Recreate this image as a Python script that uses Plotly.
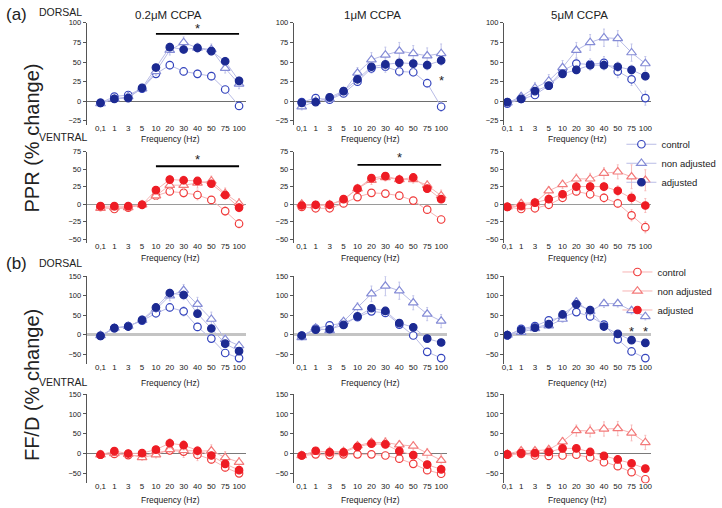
import plotly.graph_objects as go

W, H = 722, 508

freq_labels = ["0,1", "1", "3", "5", "10", "20", "30", "40", "50", "75", "100"]
concentrations = ["0.2μM CCPA", "1μM CCPA", "5μM CCPA"]
series_names = ["control", "non adjusted", "adjusted"]

# ---- PPR, DORSAL ----
ppr_dor_02_control = [-2, 6, 8, 16, 35, 46, 38, 35, 32, 15, -6]
ppr_dor_02_nonadj = [-3, 3, 6, 16, 38, 65, 75, 68, 66, 42, 22]
ppr_dor_02_adj = [-2, 3, 4, 17, 43, 69, 66, 68, 64, 51, 26]
ppr_dor_02_control_err = [3, 3, 3, 3, 4, 5, 5, 5, 5, 4, 3]
ppr_dor_02_nonadj_err = [3, 3, 3, 3, 5, 6, 7, 6, 7, 6, 6]
ppr_dor_02_adj_err = [3, 3, 3, 3, 4, 5, 5, 5, 5, 5, 5]

ppr_dor_1_control = [-1, 4, 2, 10, 25, 42, 44, 38, 37, 23, -7]
ppr_dor_1_nonadj = [-7, 0, 3, 12, 36, 53, 59, 64, 61, 58, 61]
ppr_dor_1_adj = [-2, -1, 5, 13, 28, 44, 47, 49, 48, 46, 52]
ppr_dor_1_control_err = [4, 4, 4, 4, 5, 6, 7, 6, 5, 5, 6]
ppr_dor_1_nonadj_err = [4, 4, 4, 4, 7, 9, 10, 11, 10, 10, 12]
ppr_dor_1_adj_err = [3, 3, 3, 3, 5, 6, 7, 7, 6, 6, 6]

ppr_dor_5_control = [-3, 3, 8, 20, 39, 48, 47, 49, 38, 28, 4]
ppr_dor_5_nonadj = [-2, 6, 17, 26, 43, 65, 75, 81, 80, 62, 48]
ppr_dor_5_adj = [-1, 3, 13, 20, 35, 40, 46, 46, 44, 40, 32]
ppr_dor_5_control_err = [4, 4, 4, 4, 5, 7, 7, 8, 8, 8, 9]
ppr_dor_5_nonadj_err = [4, 5, 7, 8, 9, 10, 10, 11, 10, 11, 9]
ppr_dor_5_adj_err = [3, 3, 3, 3, 4, 5, 6, 6, 6, 6, 5]

# ---- PPR, VENTRAL ----
ppr_ven_02_control = [-4, -7, -5, -1, 12, 18, 16, 13, 6, -10, -28]
ppr_ven_02_nonadj = [-6, -5, -5, -1, 12, 27, 27, 30, 33, 15, 1]
ppr_ven_02_adj = [-3, -3, -3, -1, 20, 35, 34, 33, 29, 13, -5]
ppr_ven_02_control_err = [4, 4, 4, 3, 5, 5, 6, 7, 5, 6, 6]
ppr_ven_02_nonadj_err = [4, 4, 4, 3, 5, 6, 7, 7, 7, 8, 7]
ppr_ven_02_adj_err = [3, 3, 3, 3, 5, 6, 6, 5, 5, 5, 6]

ppr_ven_1_control = [-4, -6, -6, 1, 10, 16, 15, 12, 5, -8, -22]
ppr_ven_1_nonadj = [0, -2, -1, 6, 22, 34, 38, 35, 35, 27, 12]
ppr_ven_1_adj = [-2, -1, -1, 7, 22, 37, 40, 35, 38, 22, 7]
ppr_ven_1_control_err = [4, 4, 4, 3, 4, 4, 5, 5, 5, 5, 5]
ppr_ven_1_nonadj_err = [4, 4, 4, 4, 5, 6, 5, 5, 5, 6, 8]
ppr_ven_1_adj_err = [3, 3, 3, 3, 4, 4, 4, 4, 4, 5, 5]

ppr_ven_5_control = [-4, -7, -6, -1, 9, 18, 14, 9, 1, -16, -33]
ppr_ven_5_nonadj = [-4, 1, 2, 19, 28, 36, 36, 44, 46, 39, 34]
ppr_ven_5_adj = [-4, -3, 2, 7, 14, 25, 25, 25, 19, 9, -2]
ppr_ven_5_control_err = [4, 4, 4, 4, 5, 5, 6, 6, 6, 8, 8]
ppr_ven_5_nonadj_err = [4, 5, 5, 6, 6, 7, 8, 8, 10, 17, 15]
ppr_ven_5_adj_err = [3, 3, 3, 4, 5, 6, 6, 6, 7, 8, 10]

# ---- FF/D, DORSAL ----
ffd_dor_02_control = [-3, 17, 22, 36, 55, 70, 60, 20, -10, -47, -60]
ffd_dor_02_nonadj = [-2, 17, 22, 37, 65, 100, 114, 78, 40, -12, -28]
ffd_dor_02_adj = [-3, 17, 21, 38, 70, 107, 102, 54, 16, -23, -42]
ffd_dor_02_control_err = [5, 5, 5, 5, 6, 10, 12, 10, 8, 8, 6]
ffd_dor_02_nonadj_err = [5, 5, 5, 5, 8, 13, 15, 18, 18, 12, 10]
ffd_dor_02_adj_err = [4, 4, 4, 4, 6, 10, 12, 10, 8, 8, 6]

ffd_dor_1_control = [-3, 16, 24, 30, 45, 60, 56, 26, -2, -44, -60]
ffd_dor_1_nonadj = [-7, 17, 11, 34, 70, 105, 125, 113, 82, 53, 35]
ffd_dor_1_adj = [-2, 13, 14, 25, 47, 68, 61, 30, 19, -10, -20]
ffd_dor_1_control_err = [5, 5, 5, 5, 6, 8, 9, 8, 6, 5, 5]
ffd_dor_1_nonadj_err = [5, 5, 5, 6, 12, 20, 25, 22, 18, 17, 17]
ffd_dor_1_adj_err = [4, 4, 4, 4, 6, 8, 10, 8, 6, 6, 6]

ffd_dor_5_control = [-2, 15, 22, 37, 45, 58, 47, 26, -12, -43, -60]
ffd_dor_5_nonadj = [-1, 6, 16, 23, 40, 84, 60, 80, 80, 62, 47]
ffd_dor_5_adj = [-1, 12, 18, 27, 52, 78, 63, 21, 2, -14, -21]
ffd_dor_5_control_err = [5, 5, 5, 5, 6, 8, 9, 8, 6, 5, 5]
ffd_dor_5_nonadj_err = [5, 5, 6, 6, 8, 10, 10, 10, 9, 9, 9]
ffd_dor_5_adj_err = [4, 4, 4, 4, 6, 8, 10, 8, 6, 6, 6]

# ---- FF/D, VENTRAL ----
ffd_ven_02_control = [-3, -1, -4, -6, 2, 8, 5, -3, -15, -35, -50]
ffd_ven_02_nonadj = [-3, 0, -2, -10, -3, 10, 8, 6, 7, -10, -22]
ffd_ven_02_adj = [-3, 6, 0, 1, 10, 26, 21, 7, -5, -26, -42]
ffd_ven_02_control_err = [5, 5, 5, 5, 6, 10, 15, 15, 10, 10, 6]
ffd_ven_02_nonadj_err = [5, 5, 5, 6, 8, 10, 10, 12, 15, 15, 12]
ffd_ven_02_adj_err = [4, 4, 4, 4, 6, 12, 12, 10, 8, 8, 6]

ffd_ven_1_control = [-5, -2, -4, -2, -2, -2, -5, -13, -26, -42, -51]
ffd_ven_1_nonadj = [-5, 4, 5, 5, 20, 28, 28, 22, 19, 1, -17]
ffd_ven_1_adj = [-5, 7, 3, 3, 17, 25, 23, 6, -4, -28, -40]
ffd_ven_1_control_err = [4, 4, 4, 4, 5, 6, 6, 6, 6, 6, 6]
ffd_ven_1_nonadj_err = [4, 5, 5, 5, 8, 10, 12, 10, 10, 12, 15]
ffd_ven_1_adj_err = [3, 4, 4, 4, 5, 6, 6, 8, 6, 8, 8]

ffd_ven_5_control = [-3, -1, -5, -6, -5, -3, -10, -22, -32, -47, -65]
ffd_ven_5_nonadj = [-1, 7, 7, 10, 30, 58, 57, 62, 63, 52, 28]
ffd_ven_5_adj = [-2, 1, 1, 4, 13, 13, 4, -6, -15, -25, -38]
ffd_ven_5_control_err = [4, 4, 5, 5, 5, 6, 8, 8, 8, 8, 6]
ffd_ven_5_nonadj_err = [4, 6, 6, 8, 10, 14, 15, 18, 18, 20, 18]
ffd_ven_5_adj_err = [3, 4, 4, 4, 6, 8, 8, 8, 8, 8, 6]

# significance bars: (row, col, first index, last index, level); stars: (row, col, index, level)
sig_bars = [(0, 0, 4, 10, 86), (1, 0, 4, 10, 54), (1, 1, 4, 10, 56)]
sig_stars = [(0, 0, 7, 93), (1, 0, 7, 64), (1, 1, 7, 66), (0, 1, 10, 26), (2, 2, 9, 8), (2, 2, 10, 8)]

# ---------------------------------------------------------------------------
panels = [
    [(ppr_dor_02_control, ppr_dor_02_control_err, ppr_dor_02_nonadj, ppr_dor_02_nonadj_err, ppr_dor_02_adj, ppr_dor_02_adj_err),
     (ppr_dor_1_control, ppr_dor_1_control_err, ppr_dor_1_nonadj, ppr_dor_1_nonadj_err, ppr_dor_1_adj, ppr_dor_1_adj_err),
     (ppr_dor_5_control, ppr_dor_5_control_err, ppr_dor_5_nonadj, ppr_dor_5_nonadj_err, ppr_dor_5_adj, ppr_dor_5_adj_err)],
    [(ppr_ven_02_control, ppr_ven_02_control_err, ppr_ven_02_nonadj, ppr_ven_02_nonadj_err, ppr_ven_02_adj, ppr_ven_02_adj_err),
     (ppr_ven_1_control, ppr_ven_1_control_err, ppr_ven_1_nonadj, ppr_ven_1_nonadj_err, ppr_ven_1_adj, ppr_ven_1_adj_err),
     (ppr_ven_5_control, ppr_ven_5_control_err, ppr_ven_5_nonadj, ppr_ven_5_nonadj_err, ppr_ven_5_adj, ppr_ven_5_adj_err)],
    [(ffd_dor_02_control, ffd_dor_02_control_err, ffd_dor_02_nonadj, ffd_dor_02_nonadj_err, ffd_dor_02_adj, ffd_dor_02_adj_err),
     (ffd_dor_1_control, ffd_dor_1_control_err, ffd_dor_1_nonadj, ffd_dor_1_nonadj_err, ffd_dor_1_adj, ffd_dor_1_adj_err),
     (ffd_dor_5_control, ffd_dor_5_control_err, ffd_dor_5_nonadj, ffd_dor_5_nonadj_err, ffd_dor_5_adj, ffd_dor_5_adj_err)],
    [(ffd_ven_02_control, ffd_ven_02_control_err, ffd_ven_02_nonadj, ffd_ven_02_nonadj_err, ffd_ven_02_adj, ffd_ven_02_adj_err),
     (ffd_ven_1_control, ffd_ven_1_control_err, ffd_ven_1_nonadj, ffd_ven_1_nonadj_err, ffd_ven_1_adj, ffd_ven_1_adj_err),
     (ffd_ven_5_control, ffd_ven_5_control_err, ffd_ven_5_nonadj, ffd_ven_5_nonadj_err, ffd_ven_5_adj, ffd_ven_5_adj_err)],
]

BLUE = dict(line="#b9bce6", err="#c2c5ea", ctrl="#3444bd", nonadj="#858cd6", adj="#1c2a92")
RED = dict(line="#f7b3b3", err="#f7bcbc", ctrl="#f03c3c", nonadj="#f37a7a", adj="#ee1c24")
row_colors = [BLUE, RED, BLUE, RED]

FONT = "Liberation Sans, Arial, sans-serif"


def px(x):
    return x / W


def py(y):
    return 1 - y / H


col_px = [(85, 245), (293, 447), (504, 652)]
col_range = [[-1.0, 10.5], [-0.57, 10.43], [-0.25, 10.43]]
row_px = [(19, 122), (149, 241), (275, 363.5), (394, 484)]
row_range = [[-30, 100], [-55, 75], [-75, 150], [-75, 150]]
row_ticks = [[-25, 0, 25, 50, 75, 100], [-50, -25, 0, 25, 50, 75],
             [-50, 0, 50, 100, 150], [-50, 0, 50, 100, 150]]
zl_style = [("#6e6e6e", 1), ("#9a9a9a", 1.2), ("#c4c4c4", 2.5), ("#7a7a7a", 1)]
freq_title_y = [136, 257, 383, 501]

xs = list(range(len(freq_labels)))

fig = go.Figure()
layout = dict(
    width=W, height=H, autosize=False,
    margin=dict(l=0, r=0, t=0, b=0),
    paper_bgcolor="white", plot_bgcolor="white",
    font=dict(family=FONT, color="#222"),
    showlegend=True,
)

shapes = []
annotations = []

for r in range(4):
    for c in range(3):
        k = r * 3 + c + 1
        xa = "x" if k == 1 else f"x{k}"
        ya = "y" if k == 1 else f"y{k}"
        col = row_colors[r]
        ctrl, ctrl_e, nadj, nadj_e, adj, adj_e = panels[r][c]
        legend_id = None
        if r == 0 and c == 0:
            legend_id = "legend"
        elif r == 1 and c == 0:
            legend_id = "legend2"
        specs = [
            (series_names[0], ctrl, ctrl_e, "circle", "white", col["ctrl"], 7.5),
            (series_names[1], nadj, nadj_e, "triangle-up", "white", col["nonadj"], 8.5),
            (series_names[2], adj, adj_e, "circle", col["adj"], col["adj"], 7.5),
        ]
        for name, vals, errs, sym, fill, edge, size in specs:
            fig.add_trace(go.Scatter(
                x=xs, y=vals, name=name, mode="lines+markers",
                xaxis=xa, yaxis=ya,
                line=dict(color=col["line"], width=1),
                marker=dict(symbol=sym, size=size, color=fill,
                            line=dict(color=edge, width=1.2)),
                error_y=dict(type="data", array=errs, color=col["err"],
                             thickness=1, width=1),
                showlegend=legend_id is not None,
                legend=legend_id if legend_id else "legend",
                hoverinfo="skip",
            ))
        x0, x1 = col_px[c]
        y0, y1 = row_px[r]
        layout["xaxis" if k == 1 else f"xaxis{k}"] = dict(
            domain=[px(x0), px(x1)], range=col_range[c], anchor=ya,
            tickmode="array", tickvals=xs, ticktext=freq_labels,
            showline=False, showgrid=False, zeroline=False,
            ticks="", tickangle=0, tickfont=dict(size=8, color="#222"),
            ticklabelstandoff=-3, fixedrange=True,
        )
        zc, zw = zl_style[r]
        layout["yaxis" if k == 1 else f"yaxis{k}"] = dict(
            domain=[py(y1), py(y0)], range=row_range[r], anchor=xa,
            tickmode="array", tickvals=row_ticks[r],
            showline=True, linecolor="#555", linewidth=1,
            ticks="outside", ticklen=3, tickcolor="#555",
            showgrid=False, zeroline=True, zerolinecolor=zc, zerolinewidth=zw,
            tickfont=dict(size=7.5, color="#222"), fixedrange=True,
        )
        # Frequency label under each panel
        annotations.append(dict(
            text="Frequency (Hz)", xref="paper", yref="paper",
            x=px((x0 + x1) / 2 + (4 if c == 0 else 0)), y=py(freq_title_y[r]),
            showarrow=False, font=dict(size=8.5, color="#222"),
            xanchor="center", yanchor="middle"))

for (r, c, i0, i1, lvl) in sig_bars:
    k = r * 3 + c + 1
    xa = "x" if k == 1 else f"x{k}"
    ya = "y" if k == 1 else f"y{k}"
    shapes.append(dict(type="line", xref=xa, yref=ya, x0=xs[i0], x1=xs[i1],
                       y0=lvl, y1=lvl, line=dict(color="black", width=1.8)))

for (r, c, i, lvl) in sig_stars:
    k = r * 3 + c + 1
    xa = "x" if k == 1 else f"x{k}"
    ya = "y" if k == 1 else f"y{k}"
    annotations.append(dict(text="*", xref=xa, yref=ya, x=xs[i], y=lvl,
                            showarrow=False, font=dict(size=13, color="#222"),
                            xanchor="center", yanchor="middle"))

# column titles
for c, t in enumerate(concentrations):
    x0, x1 = col_px[c]
    annotations.append(dict(text=t, xref="paper", yref="paper",
                            x=px((x0 + x1) / 2 + 2), y=py(11), showarrow=False,
                            font=dict(size=11.5, color="#222"),
                            xanchor="center", yanchor="middle"))

labels = [("(a)", 2, 11, 17), ("DORSAL", 35, 8, 10.5), ("VENTRAL", 35, 134, 10.5),
          ("(b)", 2, 262, 17), ("DORSAL", 35, 262, 10.5), ("VENTRAL", 35, 382, 10.5)]
for t, x, y, s in labels:
    annotations.append(dict(text=t, xref="paper", yref="paper", x=px(x), y=py(y),
                            showarrow=False, font=dict(size=s, color="#222"),
                            xanchor="left", yanchor="middle"))

for t, y in [("PPR (% change)", 135), ("FF/D (% change)", 385)]:
    annotations.append(dict(text=t, xref="paper", yref="paper", x=px(30), y=py(y),
                            showarrow=False, textangle=-90,
                            font=dict(size=20, color="#222"),
                            xanchor="center", yanchor="middle"))

layout["shapes"] = shapes
layout["annotations"] = annotations
layout["legend"] = dict(x=px(622), y=py(127), xanchor="left", yanchor="top",
                        bgcolor="rgba(0,0,0,0)", font=dict(size=9.5, color="#222"),
                        itemwidth=30, tracegroupgap=0, borderwidth=0)
layout["legend2"] = dict(x=px(618), y=py(256), xanchor="left", yanchor="top",
                         bgcolor="rgba(0,0,0,0)", font=dict(size=9.5, color="#222"),
                         itemwidth=30, tracegroupgap=0, borderwidth=0)

fig.update_layout(**layout)
fig.write_html(
    "out.html",
    config={"displayModeBar": False},
    post_script="document.body.style.margin='0px';document.body.style.overflow='hidden';",
)
